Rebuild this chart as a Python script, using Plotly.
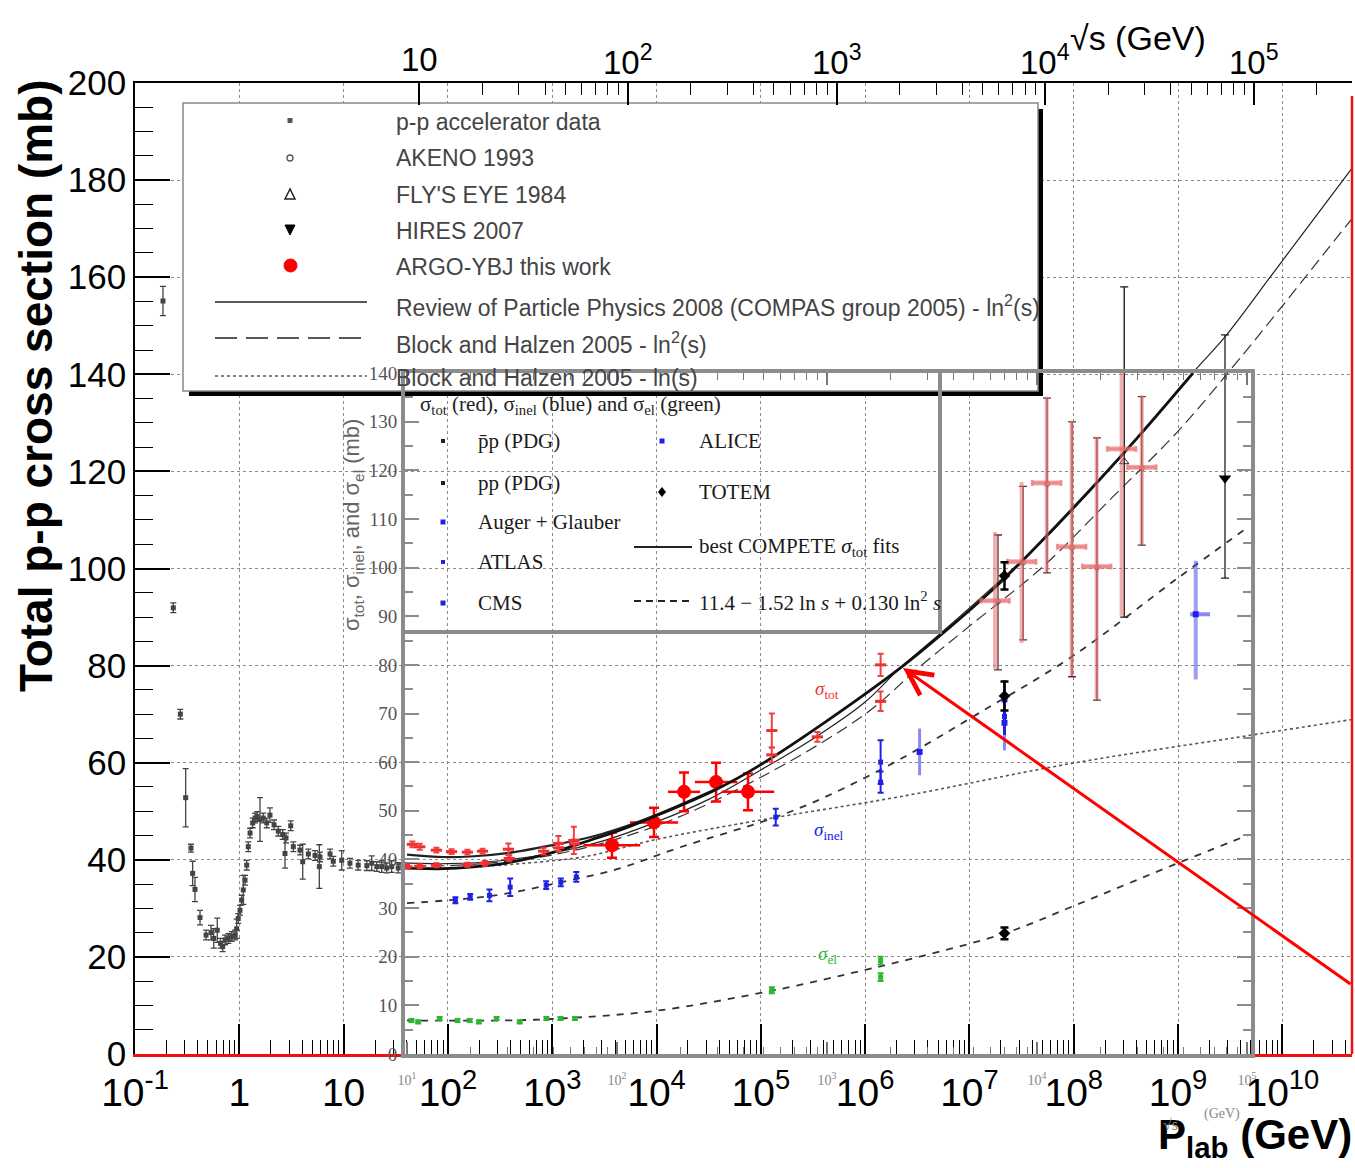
import math
import plotly.graph_objects as go

# ---------------------------------------------------------------------------
# Main panel: total p-p cross section (mb) versus P_lab (GeV)
# ---------------------------------------------------------------------------
acc_plab = [0.1855, 0.233, 0.272, 0.306, 0.344, 0.357, 0.376, 0.42, 0.48, 0.536,
            0.569, 0.615, 0.66, 0.693, 0.73, 0.785, 0.846, 0.91, 0.944, 0.977,
            1.016, 1.054, 1.092, 1.135, 1.178, 1.219, 1.268, 1.343, 1.415, 1.489,
            1.579, 1.698, 1.832, 1.968, 2.153, 2.366, 2.607, 2.742, 2.805, 3.11,
            3.296, 3.818, 4.054, 4.592, 5.32, 5.85, 5.94, 7.41, 7.96, 9.59,
            11.5, 13.8, 16.7, 18.6, 20.8, 23.2, 25.9, 28.9, 33.4]
acc_sigma = [155.1, 91.9, 70.0, 52.8, 42.4, 37.2, 33.9, 28.1, 24.5, 25.0,
             23.8, 25.5, 22.8, 22.1, 23.5, 23.8, 24.2, 24.5, 25.8, 27.9,
             29.6, 31.7, 33.8, 35.8, 38.9, 42.7, 45.5, 47.6, 48.6, 48.9,
             48.3, 48.6, 47.6, 49.2, 47.2, 45.9, 45.2, 41.3, 44.5, 47.0,
             42.7, 42.0, 39.6, 41.2, 40.9, 38.6, 40.6, 41.2, 39.7, 39.9,
             39.3, 38.9, 38.8, 39.3, 38.6, 38.6, 38.3, 38.6, 38.3]
acc_err = [3.0, 1.0, 1.0, 6.0, 0.8, 2.5, 2.5, 1.5, 1.0, 1.5,
           2.0, 2.5, 1.0, 1.0, 1.0, 1.0, 1.0, 1.0, 2.0, 1.0,
           1.0, 1.0, 3.0, 1.0, 1.0, 1.0, 1.0, 1.0, 1.0, 1.0,
           4.5, 1.0, 1.0, 1.5, 1.0, 1.0, 1.0, 3.0, 1.0, 1.0,
           1.0, 1.0, 3.6, 1.0, 1.0, 4.5, 1.0, 1.0, 1.0, 2.0,
           1.0, 1.0, 1.0, 1.5, 1.0, 1.2, 1.0, 1.2, 1.0]

akeno_plab = [1.88e7, 3.27e7, 5.55e7, 9.64e7, 1.67e8, 4.49e8]
akeno_sigma = [93.2, 101.2, 117.4, 104.3, 100.2, 120.6]
akeno_up = [13.7, 15.7, 17.7, 25.9, 26.7, 14.8]
akeno_dn = [14.1, 15.9, 18.3, 26.6, 27.3, 15.8]

flyseye_plab = [3.05e8]
flyseye_sigma = [122.0]
flyseye_up = [36.0]
flyseye_dn = [32.0]

hires_plab = [2.82e9]
hires_sigma = [118.6]
hires_up = [29.5]
hires_dn = [20.6]

argo_plab = [3740, 9460, 18370, 37240, 75350]
argo_plab_lo = [2000, 5560, 12900, 23300, 42200]
argo_plab_hi = [6990, 16100, 26100, 59500, 134400]
argo_sigma = [43.0, 47.7, 54.0, 56.0, 54.0]
argo_err = [2.6, 3.0, 4.0, 4.0, 3.8]

# model curves on the P_lab scale
compas_plab = [3.2e1, 1e2, 3.2e2, 1e3, 3.2e3, 1e4, 3.2e4, 1e5, 3.2e5, 1e6, 2.16e6,
               5.2e6, 1.96e7, 5.5e7, 1.66e8, 4.49e8, 1.38e9, 2.82e9, 9.1e9, 4.68e10]
compas_sigma = [39.4, 39.2, 39.8, 41.4, 44.0, 47.8, 52.5, 58.5, 65.0, 72.5, 79.5,
                86.5, 97.5, 106.5, 117.5, 127.8, 140.3, 147.7, 162.2, 182.5]
bh2_plab = [3.2e1, 1e2, 1e3, 1e4, 1e5, 1e6, 3.36e6, 1.08e7, 5.08e7, 2.38e8, 9.73e8,
            3.93e9, 3.8e10, 4.68e10]
bh2_sigma = [39.0, 38.8, 41.0, 47.0, 57.0, 70.0, 79.8, 88.7, 100.4, 114.8, 128.0,
             143.3, 169.7, 172.1]
bh1_plab = [3.2e1, 1e2, 1e3, 2.24e3, 1e4, 1e5, 2.16e6, 9.8e7, 3.37e9, 4.68e10]
bh1_sigma = [38.5, 38.3, 39.8, 40.8, 44.2, 48.2, 53.0, 59.9, 65.1, 68.9]

# ---------------------------------------------------------------------------
# Inset: sigma_tot / sigma_inel / sigma_el (mb) versus sqrt(s) (GeV)
# ---------------------------------------------------------------------------
tot_ppbar_s = [10.6, 11.5, 13.8, 16.3, 19.4, 22.9, 30.4, 52.6, 62.3, 546, 546, 900, 1800, 1800]
tot_ppbar = [43.1, 42.6, 41.9, 41.6, 41.5, 41.7, 42.1, 43.3, 43.9, 61.5, 66.5, 65.2, 72.5, 80.0]
tot_ppbar_err = [0.6, 0.6, 0.5, 0.5, 0.5, 0.5, 1.2, 1.5, 2.8, 1.5, 3.5, 1.0, 2.0, 2.3]
tot_pp_s = [10.0, 11.5, 13.8, 19.4, 23.5, 30.7, 44.7, 52.8, 62.7]
tot_pp = [38.5, 38.6, 38.8, 38.9, 39.2, 40.2, 41.7, 42.4, 43.2]
tot_pp_err = [0.4, 0.4, 0.4, 0.4, 0.5, 0.6, 0.7, 0.8, 0.9]

cr_s = [6310, 8450, 11120, 14620, 19230, 25300, 31550]
cr_s_lo = [5400, 7250, 9500, 12500, 16450, 21650, 27000]
cr_s_hi = [7380, 9880, 13000, 17100, 22500, 29600, 36900]
cr_tot = [93.2, 101.2, 117.4, 104.3, 100.2, 124.4, 120.6]
cr_up = [14.1, 16.4, 17.7, 25.9, 26.7, 20.0, 14.8]
cr_dn = [14.1, 16.7, 18.3, 26.6, 27.3, 34.3, 15.8]

inel_s = [17.0, 20.0, 24.7, 31.0, 46.0, 54.0, 64.0, 570, 1800, 1800]
inel = [31.6, 32.3, 32.6, 34.3, 34.7, 35.3, 36.4, 48.7, 60.0, 55.9]
inel_err = [0.6, 0.6, 1.2, 1.8, 0.8, 0.8, 1.0, 1.7, 4.5, 2.2]

alice_s = [2760, 7000]
alice_inel = [62.1, 72.9]
alice_err = [4.8, 4.0]
atlas_s = [7000]
atlas_inel = [69.4]
atlas_err = [7.0]
cms_s = [7000]
cms_inel = [68.1]
cms_err = [2.5]
auger_s = [57000]
auger_s_lo = [53600]
auger_s_hi = [66700]
auger_inel = [90.4]
auger_up = [11.0]
auger_dn = [13.4]

totem_s = [7000, 7000, 7000]
totem_sigma = [98.3, 73.6, 24.8]
totem_err = [2.8, 3.0, 1.2]

el_s = [10.5, 11.3, 14.3, 17.4, 19.9, 22.0, 26.7, 34.4, 46.1, 53.8, 63.0, 546, 1800, 1800]
el = [6.9, 6.6, 7.3, 6.9, 6.9, 6.6, 7.3, 6.6, 7.3, 7.3, 7.3, 13.1, 19.2, 15.8]
el_err = [0.3, 0.3, 0.3, 0.3, 0.3, 0.3, 0.3, 0.3, 0.3, 0.3, 0.3, 0.6, 0.8, 0.8]

fit_tot_s = [10, 15, 20, 30, 50, 75, 100, 154, 300, 484, 1000, 2270, 3450, 6670,
             11100, 19200, 31500, 55300]
fit_tot_pp = [38.2, 38.1, 38.4, 39.3, 41.5, 44.0, 45.8, 49.0, 54.5, 59.5, 68.5,
              79.6, 86.0, 96.9, 106.5, 117.4, 127.7, 140.0]
fit_tot_ppbar_s = [10, 15, 20, 30, 50, 75, 100, 154, 300]
fit_tot_ppbar = [41.0, 40.5, 40.6, 41.3, 43.0, 44.6, 46.2, 49.2, 54.6]
fit_inel_s = [10, 20, 30, 50, 100, 200, 570, 1000, 2228, 5350, 14800, 46000, 101000]
fit_inel = [31.0, 32.0, 33.0, 35.0, 38.0, 42.5, 48.7, 53.0, 60.6, 70.2, 81.8, 97.6, 108.3]
fit_el_s = [10, 30, 54, 154, 546, 1524, 2228, 7000, 14700, 46000, 101000]
fit_el = [6.9, 6.9, 7.3, 8.9, 13.0, 17.3, 19.0, 24.8, 30.3, 39.1, 45.0]

# axis tick labels
plab_tickvals = [10.0 ** k for k in range(-1, 11)]
plab_ticktext = ["10<sup>-1</sup>", "1", "10"] + ["10<sup>%d</sup>" % k for k in range(2, 11)]
sqrts_tickvals = [10, 100, 1e3, 1e4, 1e5]
sqrts_ticktext = ["10", "10<sup>2</sup>", "10<sup>3</sup>", "10<sup>4</sup>", "10<sup>5</sup>"]
inset_ticktext = ["10<sup>1</sup>", "10<sup>2</sup>", "10<sup>3</sup>", "10<sup>4</sup>", "10<sup>5</sup>"]

# ---------------------------------------------------------------------------
# geometry helpers (page pixels -> paper fractions / main-axis values)
# ---------------------------------------------------------------------------
W, H = 1355, 1168
L0, R0, T0, B0 = 135, 1352, 83, 1054
XLOG = (-1.0, 10.668)


def fx(x):
    return (x - L0) / (R0 - L0)


def fy(y):
    return (B0 - y) / (B0 - T0)


def plab_at(x):
    return 10 ** (XLOG[0] + fx(x) * (XLOG[1] - XLOG[0]))


def mb_at(y):
    return fy(y) * 200.0


SANS = "Liberation Sans, Arial, sans-serif"
SERIF = "Liberation Serif, Times New Roman, serif"
RED = "#ff0000"
BLUE = "#2020e8"
GREEN = "#2cb82c"
PINK = "rgba(232,110,110,0.55)"

fig = go.Figure()

# ---- main panel curves ----
fig.add_trace(go.Scatter(x=bh1_plab, y=bh1_sigma, mode="lines", line_shape="spline",
                         line=dict(color="#555", width=1.6, dash="dot"), xaxis="x", yaxis="y"))
fig.add_trace(go.Scatter(x=bh2_plab, y=bh2_sigma, mode="lines", line_shape="spline",
                         line=dict(color="#333", width=1.2, dash="12px,6px"), xaxis="x", yaxis="y"))
fig.add_trace(go.Scatter(x=compas_plab, y=compas_sigma, mode="lines", line_shape="spline",
                         line=dict(color="#222", width=1.2), xaxis="x", yaxis="y"))

# ---- main panel data ----
fig.add_trace(go.Scatter(
    x=acc_plab, y=acc_sigma, mode="markers", xaxis="x", yaxis="y",
    marker=dict(symbol="square", size=5, color="#444"),
    error_y=dict(type="data", array=acc_err, color="#444", thickness=1.3, width=3)))
fig.add_trace(go.Scatter(
    x=akeno_plab, y=akeno_sigma, mode="markers", xaxis="x", yaxis="y",
    marker=dict(symbol="circle-open", size=5, color="#555"),
    error_y=dict(type="data", symmetric=False, array=akeno_up, arrayminus=akeno_dn,
                 color="#5a3030", thickness=1.3, width=4)))
fig.add_trace(go.Scatter(
    x=flyseye_plab, y=flyseye_sigma, mode="markers", xaxis="x", yaxis="y",
    marker=dict(symbol="triangle-up-open", size=8, color="#222"),
    error_y=dict(type="data", symmetric=False, array=flyseye_up, arrayminus=flyseye_dn,
                 color="#111", thickness=1.3, width=4)))
fig.add_trace(go.Scatter(
    x=hires_plab, y=hires_sigma, mode="markers", xaxis="x", yaxis="y",
    marker=dict(symbol="triangle-down", size=11, color="black"),
    error_y=dict(type="data", symmetric=False, array=hires_up, arrayminus=hires_dn,
                 color="#222", thickness=1.3, width=4)))
fig.add_trace(go.Scatter(
    x=argo_plab, y=argo_sigma, mode="markers", xaxis="x", yaxis="y",
    marker=dict(symbol="circle", size=14, color=RED),
    error_x=dict(type="data", symmetric=False,
                 array=[h - p for h, p in zip(argo_plab_hi, argo_plab)],
                 arrayminus=[p - l for p, l in zip(argo_plab, argo_plab_lo)],
                 color=RED, thickness=2.5, width=0),
    error_y=dict(type="data", array=argo_err, color=RED, thickness=2.5, width=5)))

# ---- inset curves ----
fig.add_trace(go.Scatter(x=fit_el_s, y=fit_el, mode="lines", line_shape="spline",
                         line=dict(color="#333", width=1.8, dash="7px,7px"), xaxis="x3", yaxis="y3"))
fig.add_trace(go.Scatter(x=fit_inel_s, y=fit_inel, mode="lines", line_shape="spline",
                         line=dict(color="#333", width=1.8, dash="7px,7px"), xaxis="x3", yaxis="y3"))
fig.add_trace(go.Scatter(x=fit_tot_ppbar_s, y=fit_tot_ppbar, mode="lines", line_shape="spline",
                         line=dict(color="#222", width=2.2), xaxis="x3", yaxis="y3"))
fig.add_trace(go.Scatter(x=fit_tot_s, y=fit_tot_pp, mode="lines", line_shape="spline",
                         line=dict(color="#111", width=2.8), xaxis="x3", yaxis="y3"))

# ---- inset data ----
fig.add_trace(go.Scatter(
    x=cr_s, y=cr_tot, mode="markers", xaxis="x3", yaxis="y3",
    marker=dict(symbol="line-ew", size=22, line=dict(color=PINK, width=5)),
    error_x=dict(type="data", symmetric=False,
                 array=[h - s for h, s in zip(cr_s_hi, cr_s)],
                 arrayminus=[s - l for s, l in zip(cr_s, cr_s_lo)],
                 color=PINK, thickness=3, width=3),
    error_y=dict(type="data", symmetric=False, array=cr_up, arrayminus=cr_dn,
                 color=PINK, thickness=4, width=0)))
fig.add_trace(go.Scatter(
    x=tot_pp_s, y=tot_pp, mode="markers", xaxis="x3", yaxis="y3",
    marker=dict(symbol="line-ew", size=8, line=dict(color="#f03030", width=3)),
    error_y=dict(type="data", array=tot_pp_err, color="#f03030", thickness=2, width=3)))
fig.add_trace(go.Scatter(
    x=tot_ppbar_s, y=tot_ppbar, mode="markers", xaxis="x3", yaxis="y3",
    marker=dict(symbol="line-ew", size=8, line=dict(color="#f03030", width=3)),
    error_y=dict(type="data", array=tot_ppbar_err, color="#f04040", thickness=2, width=3)))
fig.add_trace(go.Scatter(
    x=inel_s, y=inel, mode="markers", xaxis="x3", yaxis="y3",
    marker=dict(symbol="square", size=5, color=BLUE),
    error_y=dict(type="data", array=inel_err, color=BLUE, thickness=2, width=3)))
fig.add_trace(go.Scatter(
    x=alice_s, y=alice_inel, mode="markers", xaxis="x3", yaxis="y3",
    marker=dict(symbol="square", size=6, color=BLUE),
    error_y=dict(type="data", array=alice_err, color="rgba(60,60,230,0.6)", thickness=3, width=0)))
fig.add_trace(go.Scatter(
    x=atlas_s, y=atlas_inel, mode="markers", xaxis="x3", yaxis="y3",
    marker=dict(symbol="square", size=5, color=BLUE),
    error_y=dict(type="data", array=atlas_err, color="rgba(60,60,230,0.6)", thickness=3, width=0)))
fig.add_trace(go.Scatter(
    x=cms_s, y=cms_inel, mode="markers", xaxis="x3", yaxis="y3",
    marker=dict(symbol="square", size=6, color=BLUE),
    error_y=dict(type="data", array=cms_err, color=BLUE, thickness=3, width=0)))
fig.add_trace(go.Scatter(
    x=auger_s, y=auger_inel, mode="markers", xaxis="x3", yaxis="y3",
    marker=dict(symbol="square", size=6, color=BLUE),
    error_x=dict(type="data", symmetric=False, array=[auger_s_hi[0] - auger_s[0]],
                 arrayminus=[auger_s[0] - auger_s_lo[0]], color="rgba(60,60,230,0.6)",
                 thickness=4, width=0),
    error_y=dict(type="data", symmetric=False, array=auger_up, arrayminus=auger_dn,
                 color="rgba(60,60,230,0.5)", thickness=4, width=0)))
fig.add_trace(go.Scatter(
    x=el_s, y=el, mode="markers", xaxis="x3", yaxis="y3",
    marker=dict(symbol="square", size=5, color=GREEN),
    error_y=dict(type="data", array=el_err, color=GREEN, thickness=2, width=3)))
fig.add_trace(go.Scatter(
    x=totem_s, y=totem_sigma, mode="markers", xaxis="x3", yaxis="y3",
    marker=dict(symbol="diamond", size=9, color="black"),
    error_y=dict(type="data", array=totem_err, color="black", thickness=2.5, width=4)))

# ---------------------------------------------------------------------------
# layout
# ---------------------------------------------------------------------------
minor_plab = [m * 10.0 ** k for k in range(-1, 11) for m in range(2, 10)]
minor_sqrts = [m * 10.0 ** k for k in range(1, 6) for m in range(2, 10)]
top_lo, top_hi = -0.3635, 5.4705

fig.update_layout(
    width=W, height=H, margin=dict(l=L0, r=W - R0, t=T0, b=H - B0, autoexpand=False),
    paper_bgcolor="white", plot_bgcolor="rgba(0,0,0,0)", showlegend=False,
    font=dict(family=SANS, color="black"),
    xaxis=dict(type="log", range=list(XLOG), domain=[0, 1], anchor="y", automargin=False,
               tickmode="array", tickvals=plab_tickvals, ticktext=plab_ticktext,
               ticks="inside", ticklen=30, tickwidth=1.5, tickcolor="black",
               tickfont=dict(family=SANS, size=39, color="black"), ticklabelstandoff=2,
               showline=True, linecolor="#f01010", linewidth=2.5,
               showgrid=True, gridcolor="#8a8a8a", griddash="dot", gridwidth=1,
               zeroline=False,
               minor=dict(tickmode="array", tickvals=minor_plab, ticks="inside", ticklen=14,
                          tickwidth=1.2, tickcolor="black", showgrid=False)),
    yaxis=dict(range=[0, 200], domain=[0, 1], anchor="x", automargin=False,
               tickmode="array", tickvals=list(range(0, 201, 20)),
               ticks="inside", ticklen=35, tickwidth=1.5, tickcolor="black",
               tickfont=dict(family=SANS, size=35, color="black"),
               showline=True, linecolor="black", linewidth=1.5,
               showgrid=True, gridcolor="#8a8a8a", griddash="dot", gridwidth=1,
               zeroline=False,
               minor=dict(dtick=5, ticks="inside", ticklen=18, tickwidth=1.2,
                          tickcolor="black", showgrid=False)),
    xaxis2=dict(type="log", overlaying="x", side="top", anchor="y", automargin=False,
                range=[top_lo, top_hi], tickmode="array", tickvals=sqrts_tickvals,
                showticklabels=False, ticks="inside", ticklen=22, tickwidth=1.5,
                tickcolor="black", showline=True, linecolor="black", linewidth=1.5,
                showgrid=False, zeroline=False,
                minor=dict(tickmode="array", tickvals=minor_sqrts, ticks="inside",
                           ticklen=12, tickwidth=1.2, tickcolor="black", showgrid=False)),
    xaxis3=dict(type="log", domain=[fx(405), fx(1251)], anchor="y3", automargin=False,
                range=[0.9905, 5.019], tickmode="array", tickvals=sqrts_tickvals,
                ticktext=inset_ticktext, ticks="inside", ticklen=12, tickwidth=1.5,
                tickcolor="#777", tickfont=dict(family=SERIF, size=14, color="#888"),
                ticklabelstandoff=10,
                showline=True, linecolor="#8c8c8c", linewidth=4, mirror="ticks",
                showgrid=False, zeroline=False,
                minor=dict(tickmode="array", tickvals=minor_sqrts, ticks="inside",
                           ticklen=7, tickwidth=1.2, tickcolor="#777", showgrid=False)),
    yaxis3=dict(domain=[0, fy(373)], anchor="x3", range=[0, 140], automargin=False,
                tickmode="array", tickvals=list(range(0, 141, 10)),
                ticks="inside", ticklen=14, tickwidth=2, tickcolor="#8c8c8c",
                tickfont=dict(family=SERIF, size=19, color="#555"),
                showline=True, linecolor="#8c8c8c", linewidth=4, mirror="ticks",
                showgrid=False, zeroline=False,
                minor=dict(dtick=5, ticks="inside", ticklen=8, tickwidth=1.5,
                           tickcolor="#8c8c8c", showgrid=False)),
)

# ---------------------------------------------------------------------------
# shapes: frame edge, legend boxes and legend glyphs
# ---------------------------------------------------------------------------
shapes = []
DX, DY = "x domain", "y domain"

# main legend: shadow and opaque box, above the grid but below the data
shapes.append(dict(type="rect", xref="x", yref="y", x0=plab_at(189), x1=plab_at(1043),
                   y0=mb_at(396), y1=mb_at(109), fillcolor="black", line=dict(width=0),
                   layer="between"))
shapes.append(dict(type="rect", xref="x", yref="y", x0=plab_at(183), x1=plab_at(1038),
                   y0=mb_at(391), y1=mb_at(103), fillcolor="white",
                   line=dict(color="#888", width=1.5), layer="between"))

# right frame edge
shapes.append(dict(type="line", xref="paper", yref="paper", x0=fx(1352), x1=fx(1352),
                   y0=fy(96), y1=fy(1054), line=dict(color="#f01010", width=2.5), layer="above"))

# main legend line samples
shapes.append(dict(type="line", xref=DX, yref=DY, x0=fx(215), x1=fx(367), y0=fy(302), y1=fy(302),
                   line=dict(color="#222", width=1.6), layer="above"))
shapes.append(dict(type="line", xref=DX, yref=DY, x0=fx(215), x1=fx(367), y0=fy(338), y1=fy(338),
                   line=dict(color="#222", width=1.6, dash="22px,9px"), layer="above"))
shapes.append(dict(type="line", xref=DX, yref=DY, x0=fx(215), x1=fx(367), y0=fy(376), y1=fy(376),
                   line=dict(color="#555", width=1.4, dash="dot"), layer="above"))

# main legend marker glyphs
shapes.append(dict(type="rect", xref=DX, yref=DY, x0=fx(287.5), x1=fx(292.5), y0=fy(123), y1=fy(118),
                   fillcolor="#555", line=dict(width=0), layer="above"))
shapes.append(dict(type="circle", xref=DX, yref=DY, x0=fx(287), x1=fx(293), y0=fy(161), y1=fy(155),
                   line=dict(color="#555", width=1.3), layer="above"))
shapes.append(dict(type="path", xref=DX, yref=DY,
                   path="M %f,%f L %f,%f L %f,%f Z" % (fx(290), fy(189), fx(285), fy(199), fx(295), fy(199)),
                   line=dict(color="#222", width=1.5), layer="above"))
shapes.append(dict(type="path", xref=DX, yref=DY,
                   path="M %f,%f L %f,%f L %f,%f Z" % (fx(285), fy(225), fx(295), fy(225), fx(290), fy(235)),
                   fillcolor="black", line=dict(color="black", width=1), layer="above"))
shapes.append(dict(type="circle", xref=DX, yref=DY, x0=fx(284), x1=fx(297), y0=fy(272), y1=fy(259),
                   fillcolor=RED, line=dict(color=RED, width=1), layer="above"))

# inset legend frame
shapes.append(dict(type="line", xref="paper", yref="paper", x0=fx(405), x1=fx(942), y0=fy(632), y1=fy(632),
                   line=dict(color="#8c8c8c", width=4), layer="above"))
shapes.append(dict(type="line", xref="paper", yref="paper", x0=fx(940), x1=fx(940), y0=fy(373), y1=fy(632),
                   line=dict(color="#8c8c8c", width=4), layer="above"))

# inset legend glyphs
for (gx, gy, col, sz) in [(443, 441, "#222", 4), (443, 483, "#222", 4), (443, 522, BLUE, 5),
                          (443, 562, BLUE, 4), (443, 603, BLUE, 5), (662, 441, BLUE, 5)]:
    shapes.append(dict(type="rect", xref="paper", yref="paper",
                       x0=fx(gx - sz / 2), x1=fx(gx + sz / 2), y0=fy(gy + sz / 2), y1=fy(gy - sz / 2),
                       fillcolor=col, line=dict(width=0), layer="above"))
shapes.append(dict(type="path", xref="paper", yref="paper",
                   path="M %f,%f L %f,%f L %f,%f L %f,%f Z" % (fx(662), fy(487), fx(666), fy(492),
                                                            fx(662), fy(497), fx(658), fy(492)),
                   fillcolor="black", line=dict(width=0), layer="above"))
shapes.append(dict(type="line", xref="paper", yref="paper", x0=fx(634), x1=fx(692), y0=fy(547), y1=fy(547),
                   line=dict(color="#222", width=2), layer="above"))
shapes.append(dict(type="line", xref="paper", yref="paper", x0=fx(634), x1=fx(692), y0=fy(601), y1=fy(601),
                   line=dict(color="#222", width=2, dash="7px,5px"), layer="above"))

fig.update_layout(shapes=shapes)

# ---------------------------------------------------------------------------
# annotations: titles, legend texts, labels and arrow
# ---------------------------------------------------------------------------
ann = []


def txt(x, y, s, size, color="black", family=SANS, xanchor="left", yanchor="middle", angle=0):
    ann.append(dict(x=fx(x), y=fy(y), xref="paper", yref="paper", text=s, showarrow=False,
                    xanchor=xanchor, yanchor=yanchor, textangle=angle,
                    font=dict(family=family, size=size, color=color)))


# sqrt(s) tick labels along the top edge (annotation x on a log axis is log10)
for v, s in zip(sqrts_tickvals, sqrts_ticktext):
    ann.append(dict(x=math.log10(v), xref="x2", y=fy(60), yref="paper", text=s,
                    showarrow=False, xanchor="center", yanchor="middle",
                    font=dict(family=SANS, size=33, color="black")))

# axis titles
txt(36, 386, "<b>Total p-p cross section (mb)</b>", 46, angle=-90, xanchor="center", yanchor="middle")
txt(1354, 1137, "<b>P<sub>lab</sub> (GeV)</b>", 42, xanchor="right")
txt(1068, 38, "\u221as (GeV)", 34)

# main legend texts
main_legend = [
    (122, "p-p accelerator data"),
    (158, "AKENO 1993"),
    (195, "FLY'S EYE 1984"),
    (231, "HIRES 2007"),
    (267, "ARGO-YBJ this work"),
    (306, "Review of Particle Physics 2008 (COMPAS group 2005) - ln<sup>2</sup>(s)"),
    (343, "Block and Halzen 2005 - ln<sup>2</sup>(s)"),
    (378, "Block and Halzen 2005 - ln(s)"),
]
for yy, s in main_legend:
    txt(394, yy, s, 23, color="#444")

# inset title, legend and axis title
txt(418, 405, "\u03c3<sub>tot</sub> (red), \u03c3<sub>inel</sub> (blue) and \u03c3<sub>el</sub> (green)",
    21, color="#222", family=SERIF)
inset_legend = [
    (476, 441, "p\u0304p (PDG)"),
    (476, 483, "pp (PDG)"),
    (476, 522, "Auger + Glauber"),
    (476, 562, "ATLAS"),
    (476, 603, "CMS"),
    (697, 441, "ALICE"),
    (697, 492, "TOTEM"),
    (697, 547, "best COMPETE <i>\u03c3</i><sub>tot</sub> fits"),
    (697, 601, "11.4 \u2212 1.52 ln <i>s</i> + 0.130 ln<sup>2</sup> <i>s</i>"),
]
for xx, yy, s in inset_legend:
    txt(xx, yy, s, 21, color="#1a1a1a", family=SERIF)

txt(353, 525, "\u03c3<sub>tot</sub>, \u03c3<sub>inel</sub>, and \u03c3<sub>el</sub> (mb)", 22,
    color="#666", angle=-90, xanchor="center")
txt(827, 690, "<i>\u03c3</i><sub>tot</sub>", 19, color="#f03030", family=SERIF, xanchor="center")
txt(829, 831, "<i>\u03c3</i><sub>inel</sub>", 19, color=BLUE, family=SERIF, xanchor="center")
txt(827, 955, "<i>\u03c3</i><sub>el</sub>", 19, color=GREEN, family=SERIF, xanchor="center")
txt(1170, 1124, "\u221as", 16, color="#888", family=SERIF, xanchor="center")
txt(1222, 1114, "(GeV)", 14, color="#888", family=SERIF, xanchor="center")

# red arrow pointing at the crossing of the fits
ann.append(dict(x=fx(903), y=fy(668), xref="paper", yref="paper", text="", showarrow=True,
                ax=1352 - 903, ay=985 - 668, arrowhead=5, arrowsize=1.6, arrowwidth=3,
                arrowcolor=RED, standoff=0))

fig.update_layout(annotations=ann)

fig.write_html("out.html")
